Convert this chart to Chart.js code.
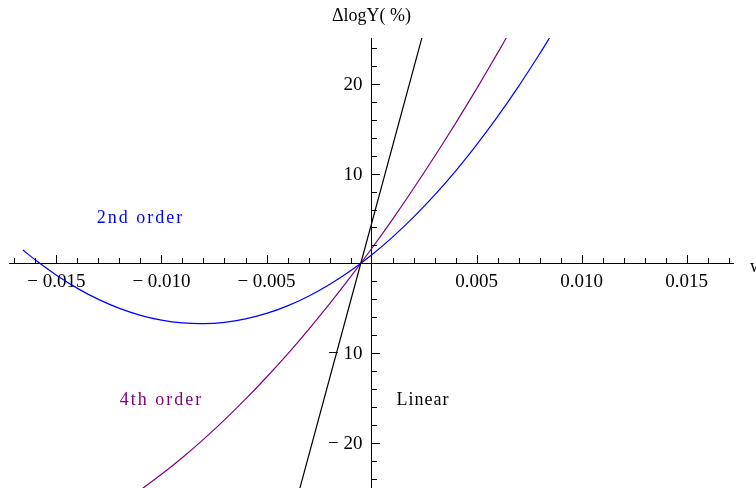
<!DOCTYPE html>
<html>
<head>
<meta charset="utf-8">
<script src="https://cdn.jsdelivr.net/npm/chart.js@4.4.1/dist/chart.umd.min.js"></script>
<style>
  html, body { margin: 0; padding: 0; background: #fff; overflow: hidden; }
  #wrap { width: 756px; height: 488px; overflow: hidden; }
  canvas { display: block; }
</style>
</head>
<body>
<div id="wrap"><canvas id="plot" width="756" height="511"></canvas></div>
<script>
// values
const linearX = [-0.0035, 0.0025];
const linearY = [-25.8, 26.0];

const secondX = [-0.0166, -0.016, -0.015, -0.014, -0.013, -0.012, -0.011, -0.010, -0.009, -0.008,
  -0.007, -0.006, -0.005, -0.004, -0.003, -0.002, -0.001, 0, 0.001, 0.002, 0.003, 0.004,
  0.005, 0.006, 0.007, 0.008, 0.0085];
const secondY = [1.50, 0.37, -1.32, -2.78, -4.01, -5.01, -5.78, -6.32, -6.63, -6.71,
  -6.56, -6.18, -5.57, -4.73, -3.66, -2.36, -0.83, 0.93, 2.93, 5.15, 7.60, 10.28,
  13.20, 16.34, 19.72, 23.32, 25.21];

const fourthX = [-0.0112, -0.011, -0.010, -0.009, -0.008, -0.007, -0.006, -0.005, -0.004, -0.003,
  -0.002, -0.001, 0, 0.001, 0.002, 0.003, 0.004, 0.005, 0.006, 0.0065];
const fourthY = [-25.56, -25.23, -23.49, -21.61, -19.59, -17.42, -15.12, -12.68, -10.10, -7.37,
  -4.51, -1.51, 1.63, 4.91, 8.34, 11.90, 15.60, 19.44, 23.42, 25.46];

const xTicks = [-0.015, -0.010, -0.005, 0.005, 0.010, 0.015];
const xTickLabels = ['\u2212 0.015', '\u2212 0.010', '\u2212 0.005', '0.005', '0.010', '0.015'];
const yTicks = [-20, -10, 10, 20];
const yTickLabels = ['\u2212 20', '\u2212 10', '10', '20'];

const curveLabels = [
  { text: '2nd order', x: -0.0110, y: 5.0, color: '#0000ff', spacing: '2px' },
  { text: '4th order', x: -0.0100, y: -15.2, color: '#800080', spacing: '2px' },
  { text: 'Linear', x: 0.00245, y: -15.2, color: '#000000', spacing: '1px' },
];

const serif = '"Liberation Serif", "DejaVu Serif", serif';

const toPoints = (xs, ys) => xs.map((v, i) => ({ x: v, y: ys[i] }));

// Mathematica style tick marks, axis labels and curve labels
const decorations = {
  id: 'decorations',
  afterDraw(chart) {
    const { ctx, scales: { x, y } } = chart;
    const x0 = x.getPixelForValue(0);
    const y0 = y.getPixelForValue(0);
    ctx.save();
    ctx.strokeStyle = '#000';
    ctx.lineWidth = 1;
    ctx.beginPath();
    for (let i = -17; i <= 17; i++) {
      if (i === 0) continue;
      const px = Math.round(x.getPixelForValue(i / 1000)) + 0.5;
      const len = i % 5 === 0 ? 8 : 5;
      ctx.moveTo(px, Math.round(y0));
      ctx.lineTo(px, Math.round(y0) - len);
    }
    for (let j = -12; j <= 12; j++) {
      if (j === 0) continue;
      const py = Math.round(y.getPixelForValue(j * 2)) + 0.5;
      const len = j % 5 === 0 ? 8 : 5;
      ctx.moveTo(Math.round(x0), py);
      ctx.lineTo(Math.round(x0) + len, py);
    }
    ctx.stroke();

    // y tick labels, left of the axis and above the curves
    ctx.fillStyle = '#000';
    ctx.font = '19px ' + serif;
    ctx.textAlign = 'right';
    ctx.textBaseline = 'middle';
    yTicks.forEach((v, i) => {
      ctx.fillText(yTickLabels[i], x0 - 9, y.getPixelForValue(v) + 1);
    });

    ctx.font = '18px ' + serif;
    ctx.textAlign = 'center';
    ctx.fillText('\u0394logY( %)', x0, 16);
    ctx.textAlign = 'left';
    ctx.fillText('w', 750, y0 + 4);

    ctx.textAlign = 'center';
    curveLabels.forEach(l => {
      ctx.letterSpacing = l.spacing;
      ctx.fillStyle = l.color;
      ctx.fillText(l.text, x.getPixelForValue(l.x), y.getPixelForValue(l.y));
    });
    ctx.restore();
  },
};

const lineSet = (label, data, color) => ({
  label,
  data,
  borderColor: color,
  backgroundColor: color,
  borderWidth: 1.2,
  pointRadius: 0,
  showLine: true,
  tension: 0.3,
  fill: false,
});

new Chart(document.getElementById('plot'), {
  type: 'scatter',
  data: {
    datasets: [
      lineSet('Linear', toPoints(linearX, linearY), '#000000'),
      lineSet('4th order', toPoints(fourthX, fourthY), '#800080'),
      lineSet('2nd order', toPoints(secondX, secondY), '#0000ff'),
    ],
  },
  options: {
    responsive: false,
    animation: false,
    layout: { padding: { left: 9, right: 23, top: 38, bottom: 0 } },
    plugins: {
      legend: { display: false },
      tooltip: { enabled: false },
    },
    scales: {
      x: {
        type: 'linear',
        min: -0.01726,
        max: 0.01721,
        position: { y: 0 },
        grid: { display: false, drawTicks: false },
        border: { display: true, color: '#000', width: 1 },
        afterBuildTicks: s => { s.ticks = xTicks.map(v => ({ value: v })); },
        ticks: {
          padding: 7,
          maxRotation: 0,
          autoSkip: false,
          color: '#000',
          font: { family: serif, size: 19 },
          callback: (v, i) => xTickLabels[i],
        },
      },
      y: {
        type: 'linear',
        min: -25.3,
        max: 25.1,
        position: { x: 0 },
        grid: { display: false, drawTicks: false },
        border: { display: true, color: '#000', width: 1 },
        afterBuildTicks: s => { s.ticks = yTicks.map(v => ({ value: v })); },
        ticks: {
          padding: 9,
          autoSkip: false,
          // labels are drawn by the decorations plugin; keep them for layout
          color: 'rgba(0,0,0,0)',
          font: { family: serif, size: 19 },
          callback: (v, i) => yTickLabels[i],
        },
      },
    },
  },
  plugins: [decorations],
});
</script>
</body>
</html>
